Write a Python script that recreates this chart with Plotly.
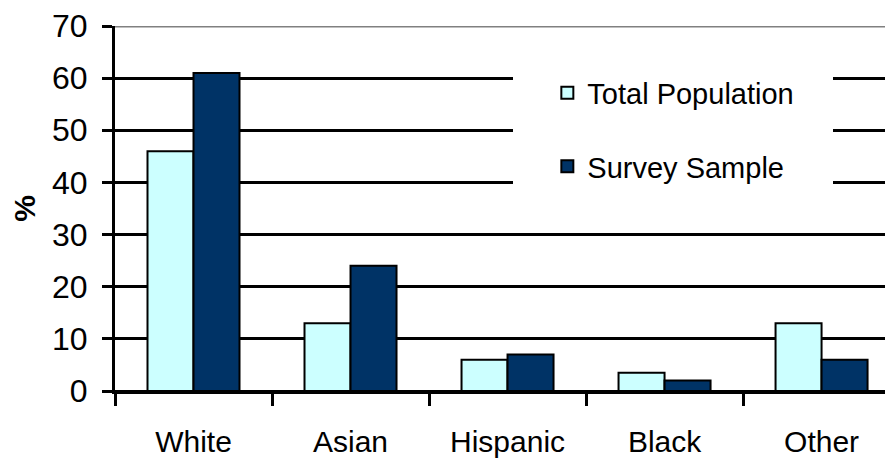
import plotly.graph_objects as go

categories = ["White", "Asian", "Hispanic", "Black", "Other"]
total_population = [46, 13, 6, 3.5, 13]
survey_sample = [61, 24, 7, 2, 6]
y_ticks = [0, 10, 20, 30, 40, 50, 60, 70]

FONT = "Liberation Sans, Arial, sans-serif"

fig = go.Figure()
fig.add_trace(go.Bar(
    name="Total Population", x=categories, y=total_population,
    marker=dict(color="#CCFFFF", line=dict(color="black", width=2)),
    legendgroup="a",
))
fig.add_trace(go.Bar(
    name="Survey Sample", x=categories, y=survey_sample,
    marker=dict(color="#003366", line=dict(color="black", width=2)),
    legendgroup="b",
))

fig.update_layout(
    width=885, height=455,
    margin=dict(l=107, r=0, t=15, b=72),
    paper_bgcolor="white", plot_bgcolor="white",
    barmode="group", bargap=0.414, bargroupgap=0,
    font=dict(family=FONT, size=28, color="black"),
    showlegend=True,
    legend=dict(
        x=0.512, y=0.98, xanchor="left", yanchor="top",
        bgcolor="white", bordercolor="white", borderwidth=34,
        tracegroupgap=33, traceorder="grouped",
        font=dict(family=FONT, size=29, color="black"),
    ),
    xaxis=dict(
        type="category", range=[-0.5, 4.455],
        showline=True, linecolor="black", linewidth=3,
        ticks="outside", tickson="boundaries", ticklen=12, tickwidth=3, tickcolor="black",
        showgrid=False, ticklabelstandoff=22,
        tickfont=dict(family=FONT, size=30, color="black"),
    ),
    yaxis=dict(
        range=[0, 70], tickvals=y_ticks,
        showline=True, linecolor="black", linewidth=3,
        ticks="outside", ticklen=10, tickwidth=3, tickcolor="black",
        showgrid=True, gridcolor="black", gridwidth=3,
        zeroline=True, zerolinecolor="black", zerolinewidth=3,
        ticklabelstandoff=8, ticklabeloverflow="allow",
        tickfont=dict(family=FONT, size=32, color="black"),
        title=dict(text="%", standoff=14, font=dict(family=FONT, size=30, color="black", weight="bold")),
    ),
    shapes=[dict(type="line", xref="paper", yref="y", x0=0, x1=1, y0=70, y1=70,
                 line=dict(color="#808080", width=3), layer="above")],
)

fig.write_html("out.html")
